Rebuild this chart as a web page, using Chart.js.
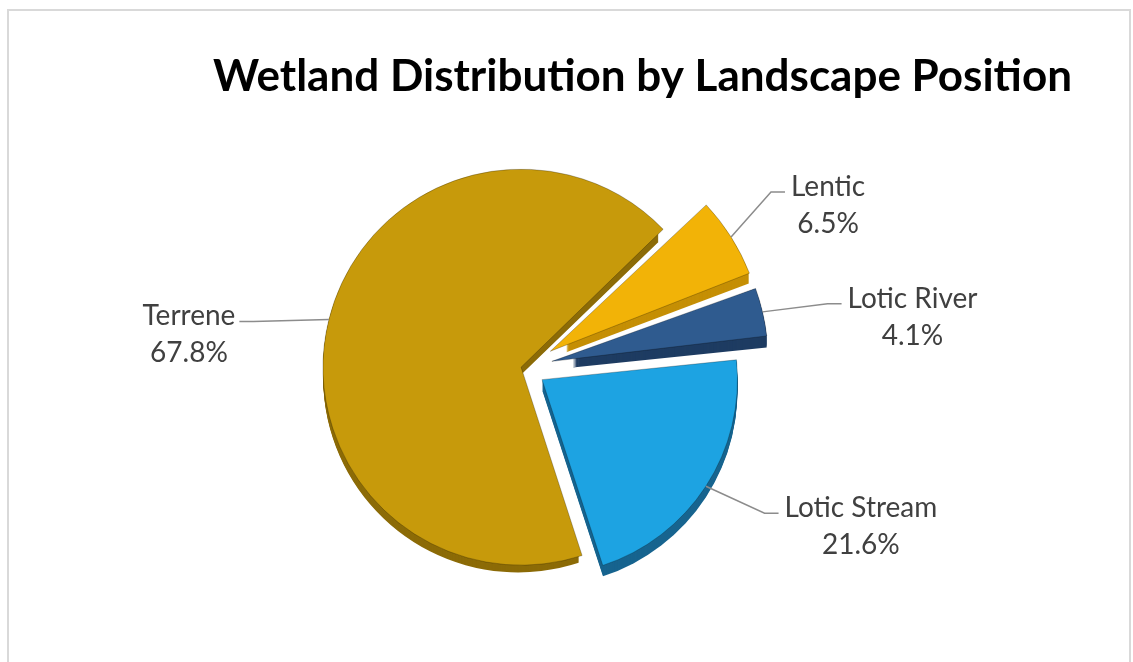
<!DOCTYPE html>
<html>
<head>
<meta charset="utf-8">
<title>Wetland Distribution by Landscape Position</title>
<script src="https://cdn.jsdelivr.net/npm/chart.js@4/dist/chart.umd.min.js"></script>
<style>
    html, body { margin: 0; padding: 0; background: #fff; overflow: hidden; }
    #frame { position: absolute; left: 7px; top: 9px; width: 1120px; height: 700px; border: 2px solid #d9d9d9; }
    #wrap { position: absolute; left: -26px; top: 0; width: 1160px; height: 662px; }
</style>
</head>
<body>
<div id="frame"></div>
<div id="wrap"><canvas id="wetlandChart"></canvas></div>
<script>
// Wetland share by landscape position (percent)
var positions = ['Lentic', 'Lotic River', 'Lotic Stream', 'Terrene'];
var shares = [6.5, 4.1, 21.6, 67.8];

var topColors = ['#F2B307', '#2F5B8F', '#1DA3E2', '#C79A0B'];
var sideColors = ['#C58F05', '#1E3C62', '#17648F', '#8C6B07'];
// how far each slice is pulled out from the centre, in pixels
var explode = [50, 50, 22, 6];

// label block position relative to the slice edge
var labelOffsets = [[97, -50], [150, -13], [155, 22], [-140, -3]];
var DEPTH = 11;

var total = shares.reduce(function (a, b) { return a + b; }, 0);

// ArcElement moves a slice by offset/4 * (2 - sin(min(PI, circumference))),
// so turn the wanted pixel shift back into the option value
function arcOffset(i) {
    var circ = shares[i] / total * Math.PI * 2;
    return explode[i] * 4 / (2 - Math.sin(Math.min(Math.PI, circ)));
}

// Extruded side of each slice, painted under the top faces
var pieDepth = {
    id: 'pieDepth',
    beforeDatasetsDraw: function (chart) {
        var ctx = chart.ctx;
        var meta = chart.getDatasetMeta(0);
        ctx.save();
        meta.data.forEach(function (arc, i) {
            var p = arc.getProps(['x', 'y', 'startAngle', 'endAngle', 'outerRadius']);
            var mid = (p.startAngle + p.endAngle) / 2;
            var cx = p.x + Math.cos(mid) * explode[i];
            var cy = p.y + Math.sin(mid) * explode[i];
            ctx.fillStyle = sideColors[i];
            for (var d = DEPTH; d > 0; d--) {
                ctx.beginPath();
                ctx.moveTo(cx, cy + d);
                ctx.arc(cx, cy + d, p.outerRadius, p.startAngle, p.endAngle);
                ctx.closePath();
                ctx.fill();
            }
        });
        ctx.restore();
    }
};

// Category name and percentage outside each slice, with leader lines
var outsideLabels = {
    id: 'outsideLabels',
    afterDatasetsDraw: function (chart) {
        var ctx = chart.ctx;
        var meta = chart.getDatasetMeta(0);
        ctx.save();
        ctx.font = '28px Lato';
        ctx.textAlign = 'center';
        ctx.textBaseline = 'middle';
        meta.data.forEach(function (arc, i) {
            var p = arc.getProps(['x', 'y', 'startAngle', 'endAngle', 'outerRadius']);
            var mid = (p.startAngle + p.endAngle) / 2;
            var ax = p.x + Math.cos(mid) * (p.outerRadius + explode[i]);
            var ay = p.y + Math.sin(mid) * (p.outerRadius + explode[i]);
            var tx = ax + labelOffsets[i][0];
            var ty = ay + labelOffsets[i][1];
            var name = positions[i];
            var pct = shares[i].toFixed(1) + '%';
            var w = ctx.measureText(name).width;
            var right = tx > ax;
            var ex = right ? tx - w / 2 - 6 : tx + w / 2 + 4;
            var ey = ty + 5;
            var bx = right ? ex - 14 : ex + 14;

            ctx.strokeStyle = '#8c8c8c';
            ctx.lineWidth = 1.5;
            ctx.beginPath();
            ctx.moveTo(ax, ay);
            ctx.lineTo(bx, ey);
            ctx.lineTo(ex, ey);
            ctx.stroke();

            ctx.fillStyle = '#404040';
            ctx.fillText(name, tx, ty);
            ctx.fillText(pct, tx, ty + 37);
        });
        ctx.restore();
    }
};

var ctx = document.getElementById('wetlandChart').getContext('2d');
var wetlandChart = new Chart(ctx, {
    type: 'pie',
    data: {
        labels: positions,
        datasets: [{
            data: shares,
            backgroundColor: topColors,
            borderColor: 'rgba(0, 0, 0, 0.25)',
            borderWidth: 1,
            offset: shares.map(function (v, i) { return arcOffset(i); })
        }]
    },
    options: {
        responsive: true,
        maintainAspectRatio: false,
        animation: false,
        rotation: 46,
        radius: 195,
        layout: {
            padding: { left: 2, right: 62, top: 0, bottom: 47 }
        },
        plugins: {
            legend: { display: false },
            tooltip: { enabled: false },
            title: {
                display: true,
                text: 'Wetland Distribution by Landscape Position',
                align: 'end',
                color: '#000',
                font: { family: 'Lato', size: 44, weight: 'bold', lineHeight: 1.2 },
                padding: { top: 50, bottom: 18 }
            }
        }
    },
    plugins: [pieDepth, outsideLabels]
});
</script>
</body>
</html>
